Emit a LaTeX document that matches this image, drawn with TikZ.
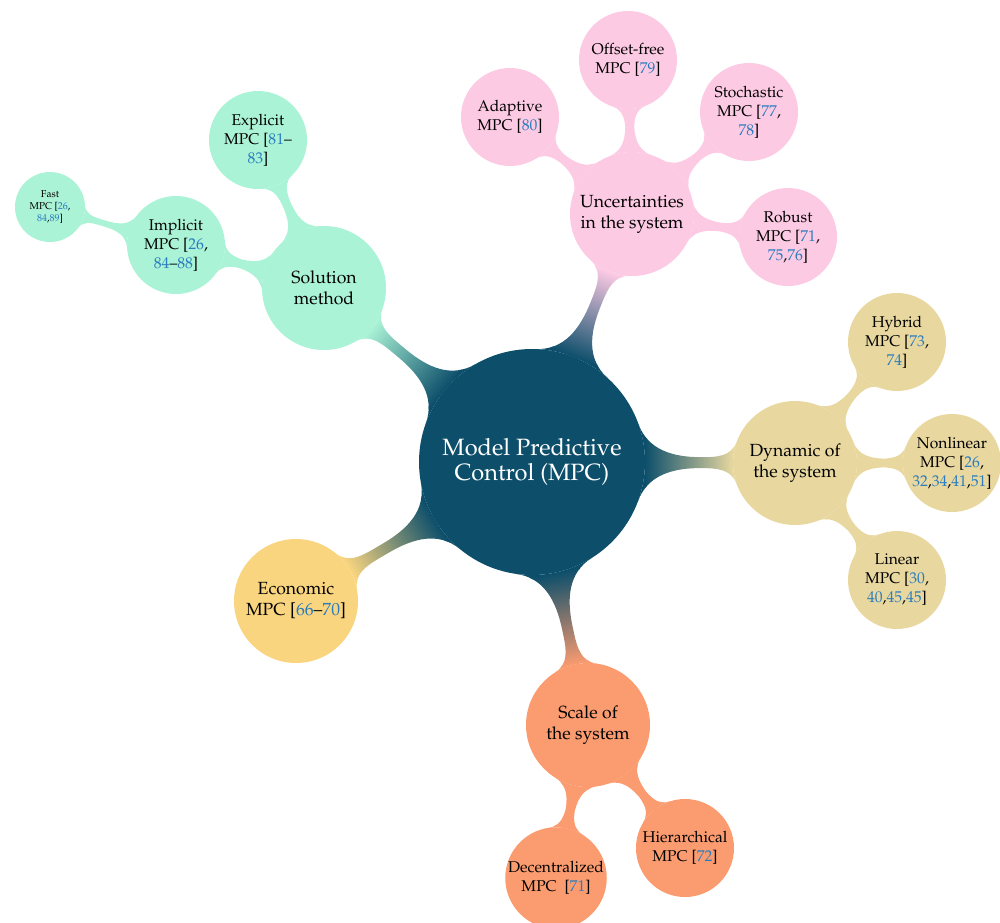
\documentclass[tikz,border=0pt]{standalone}
\usepackage[T1]{fontenc}
\usepackage{mathpazo}
\usetikzlibrary{mindmap}
\pgfdeclarelayer{background}
\pgfsetlayers{background,main}
\definecolor{rootc}{HTML}{0D4F6B}
\definecolor{mintc}{HTML}{AAF3D6}
\definecolor{pinkc}{HTML}{FDCAE4}
\definecolor{khakic}{HTML}{E8D8A0}
\definecolor{yelc}{HTML}{F9D580}
\definecolor{orc}{HTML}{FA9B70}
\definecolor{citec}{HTML}{2A7CBD}
\newcommand{\citeref}[1]{\textcolor{citec}{#1}}
\tikzset{
  cpt/.style={circle, inner sep=0pt, outer sep=0pt, align=center, text=black},
  rootcpt/.style={cpt, fill=rootc, minimum size=113pt, text=white, font=\fontsize{11.8}{12.9}\selectfont},
  lone/.style={cpt, minimum size=62pt, font=\fontsize{8.8}{10.5}\selectfont},
  ltwo/.style={cpt, minimum size=49pt, font=\fontsize{7.8}{9.5}\selectfont},
  lthree/.style={cpt, minimum size=35pt, font=\fontsize{5}{6}\selectfont},
  rootbar/.style={line width=6.5pt},
  subbar/.style={line width=4.5pt}
}
\begin{document}
\begin{tikzpicture}[x=0.5pt,y=-0.5pt]
\useasboundingbox (0,0) rectangle (1000,922);
% root
\node[rootcpt] (root) at (532,462) {Model Predictive\\Control (MPC)};
% solution method
\node[lone, fill=mintc] (sol) at (324,288) {Solution\\method};
\node[ltwo, fill=mintc] (expl) at (258,140) {Explicit\\MPC [\citeref{81}--\\\citeref{83}]};
\node[ltwo, fill=mintc] (impl) at (176,245) {Implicit\\MPC [\citeref{26},\\\citeref{84}--\citeref{88}]};
\node[lthree, fill=mintc] (fast) at (50,207) {Fast\\MPC [\citeref{26},\\\citeref{84},\citeref{89}]};
% uncertainties
\node[lone, fill=pinkc] (unc) at (632,214) {Uncertainties\\in the system};
\node[ltwo, fill=pinkc] (off) at (628,60) {Offset-free\\MPC [\citeref{79}]};
\node[ltwo, fill=pinkc] (adap) at (510,117) {Adaptive\\MPC [\citeref{80}]};
\node[ltwo, fill=pinkc] (stoch) at (749,112) {Stochastic\\MPC [\citeref{77},\\\citeref{78}]};
\node[ltwo, fill=pinkc] (rob) at (788,237) {Robust\\MPC [\citeref{71},\\\citeref{75},\citeref{76}]};
% dynamic
\node[lone, fill=khakic] (dyn) at (795,463) {Dynamic of\\the system};
\node[ltwo, fill=khakic] (hyb) at (897,342) {Hybrid\\MPC [\citeref{73},\\\citeref{74}]};
\node[ltwo, fill=khakic] (nonl) at (952,463) {Nonlinear\\MPC [\citeref{26},\\\citeref{32},\citeref{34},\citeref{41},\citeref{51}]};
\node[ltwo, fill=khakic] (lin) at (897,580) {Linear\\MPC [\citeref{30},\\\citeref{40},\citeref{45},\citeref{45}]};
% economic
\node[lone, fill=yelc] (eco) at (296,601) {Economic\\MPC [\citeref{66}--\citeref{70}]};
% scale
\node[lone, fill=orc] (scale) at (588,725) {Scale of\\the system};
\node[ltwo, fill=orc] (dec) at (556,878) {Decentralized\\MPC~~[\citeref{71}]};
\node[ltwo, fill=orc] (hier) at (685,848) {Hierarchical\\MPC [\citeref{72}]};
\begin{pgfonlayer}{background}
\path[rootbar] (root) to[circle connection bar switch color=from (rootc) to (mintc)] (sol);
\path[rootbar] (root) to[circle connection bar switch color=from (rootc) to (pinkc)] (unc);
\path[rootbar] (root) to[circle connection bar switch color=from (rootc) to (khakic)] (dyn);
\path[rootbar] (root) to[circle connection bar switch color=from (rootc) to (yelc)] (eco);
\path[rootbar] (root) to[circle connection bar switch color=from (rootc) to (orc)] (scale);
\path[subbar] (sol) to[circle connection bar switch color=from (mintc) to (mintc)] (expl);
\path[subbar] (sol) to[circle connection bar switch color=from (mintc) to (mintc)] (impl);
\path[subbar] (impl) to[circle connection bar switch color=from (mintc) to (mintc)] (fast);
\path[subbar] (unc) to[circle connection bar switch color=from (pinkc) to (pinkc)] (off);
\path[subbar] (unc) to[circle connection bar switch color=from (pinkc) to (pinkc)] (adap);
\path[subbar] (unc) to[circle connection bar switch color=from (pinkc) to (pinkc)] (stoch);
\path[subbar] (unc) to[circle connection bar switch color=from (pinkc) to (pinkc)] (rob);
\path[subbar] (dyn) to[circle connection bar switch color=from (khakic) to (khakic)] (hyb);
\path[subbar] (dyn) to[circle connection bar switch color=from (khakic) to (khakic)] (nonl);
\path[subbar] (dyn) to[circle connection bar switch color=from (khakic) to (khakic)] (lin);
\path[subbar] (scale) to[circle connection bar switch color=from (orc) to (orc)] (dec);
\path[subbar] (scale) to[circle connection bar switch color=from (orc) to (orc)] (hier);
\end{pgfonlayer}
\end{tikzpicture}
\end{document}
